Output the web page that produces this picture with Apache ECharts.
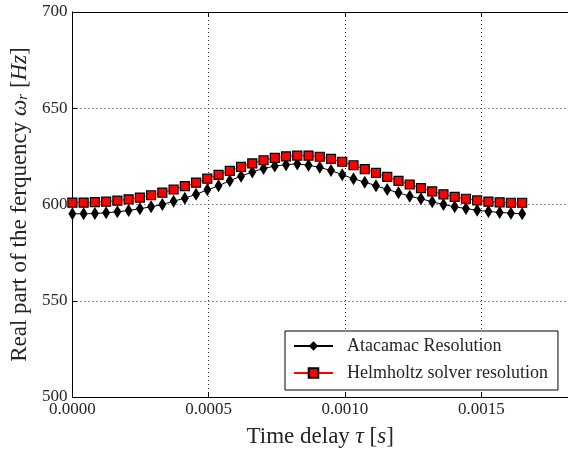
<!DOCTYPE html>
<html>
<head>
<meta charset="utf-8">
<script src="https://cdn.jsdelivr.net/npm/echarts@6/dist/echarts.min.js"></script>
<style>
html, body { margin: 0; padding: 0; background: #fff; }
#chart { width: 568px; height: 454px; }
</style>
</head>
<body>
<div id="chart"></div>
<script>
// Time delay tau [s]
const tau = [
  0, 0.00004125, 0.0000825, 0.00012375, 0.000165, 0.00020625, 0.0002475,
  0.00028875, 0.00033, 0.00037125, 0.0004125, 0.00045375, 0.000495,
  0.00053625, 0.0005775, 0.00061875, 0.00066, 0.00070125, 0.0007425,
  0.00078375, 0.000825, 0.00086625, 0.0009075, 0.00094875, 0.00099,
  0.00103125, 0.0010725, 0.00111375, 0.001155, 0.00119625, 0.0012375,
  0.00127875, 0.00132, 0.00136125, 0.0014025, 0.00144375, 0.001485,
  0.00152625, 0.0015675, 0.00160875, 0.00165
];

// Real part of the frequency [Hz], Atacamac resolution
const atacamac = [
  595.2, 595.2, 595.3, 595.7, 596.2, 596.9, 597.8, 598.8, 600.0, 601.7,
  603.3, 605.3, 607.6, 609.7, 612.4, 614.7, 616.9, 618.7, 620.0, 620.7,
  621.1, 620.4, 619.3, 617.6, 615.5, 613.4, 611.6, 609.8, 607.8, 606.1,
  604.3, 603.0, 601.4, 600.0, 598.8, 597.9, 597.0, 596.4, 595.9, 595.5,
  595.2
];

// Real part of the frequency [Hz], Helmholtz solver
const helmholtz = [
  601.0, 601.0, 601.2, 601.5, 602.0, 602.7, 603.6, 604.8, 606.2, 607.8,
  609.5, 611.4, 613.4, 615.4, 617.5, 619.5, 621.4, 623.0, 624.2, 625.0,
  625.4, 625.4, 624.8, 623.7, 622.2, 620.4, 618.4, 616.4, 614.3, 612.3,
  610.4, 608.5, 606.8, 605.3, 604.0, 603.0, 602.1, 601.5, 601.1, 600.9,
  600.9
];

const seriesNames = ['Atacamac Resolution', 'Helmholtz solver resolution'];

const yTicks = { min: 500, max: 700, step: 50 };
const xTicks = { min: 0, max: 0.0018182, step: 0.0005 };

const serif = '"Liberation Serif", "DejaVu Serif", serif';
const ink = '#262626';
const diamond = 'path://M0,0 L6,10 L0,20 L-6,10 Z';

const chart = echarts.init(document.getElementById('chart'), null, { renderer: 'canvas' });

const gridLine = { show: true, lineStyle: { color: '#333', width: 1, type: [1, 3] } };
const spine = { show: true, onZero: false, lineStyle: { color: '#000', width: 1 } };
const inTick = { show: true, inside: true, length: 5, lineStyle: { color: '#000' } };

chart.setOption({
  animation: false,
  backgroundColor: '#fff',
  grid: { left: 70, top: 12, width: 500, bottom: 57, containLabel: false },
  xAxis: [
    {
      type: 'value', position: 'bottom',
      min: xTicks.min, max: xTicks.max, interval: xTicks.step,
      axisLine: spine,
      axisTick: inTick,
      axisLabel: {
        show: true, showMaxLabel: false, margin: 4,
        fontFamily: serif, fontSize: 17, color: ink,
        formatter: v => v.toFixed(4)
      },
      splitLine: gridLine,
      name: '{n|Time delay }{i|τ}{n| [}{i|s}{n|]}',
      nameLocation: 'middle', nameGap: 28,
      nameTextStyle: {
        rich: {
          n: { fontFamily: serif, fontSize: 23, color: ink },
          i: { fontFamily: serif, fontSize: 23, color: ink, fontStyle: 'italic' }
        }
      }
    },
    {
      type: 'value', position: 'top',
      min: xTicks.min, max: xTicks.max, interval: xTicks.step,
      axisLine: spine,
      axisTick: inTick,
      axisLabel: { show: false },
      splitLine: { show: false }
    }
  ],
  yAxis: [
    {
      type: 'value', position: 'left',
      min: yTicks.min, max: yTicks.max, interval: yTicks.step,
      axisLine: spine,
      axisTick: inTick,
      axisLabel: { show: true, margin: 5, fontFamily: serif, fontSize: 17, color: ink },
      splitLine: gridLine,
      name: '{n|Real part of the ferquency }{i|ω}{s|r}{n| [}{i|Hz}{n|]}',
      nameLocation: 'middle', nameGap: 34, nameRotate: 90,
      nameTextStyle: {
        rich: {
          n: { fontFamily: serif, fontSize: 23, color: ink },
          i: { fontFamily: serif, fontSize: 23, color: ink, fontStyle: 'italic' },
          s: { fontFamily: serif, fontSize: 15, color: ink, fontStyle: 'italic', verticalAlign: 'bottom' }
        }
      }
    }
  ],
  legend: {
    orient: 'vertical',
    left: 285, top: 331,
    backgroundColor: '#fff',
    borderColor: '#000', borderWidth: 1, borderRadius: 0,
    padding: [6, 10, 8, 8],
    itemWidth: 39, itemHeight: 12, itemGap: 9,
    symbolKeepAspect: true,
    textStyle: { fontFamily: serif, fontSize: 18, color: ink, lineHeight: 18, padding: [0, 0, 0, 9] },
    data: seriesNames,
    selectedMode: false,
    z: 10
  },
  series: [
    {
      name: seriesNames[0], type: 'line',
      xAxisIndex: 0, yAxisIndex: 0,
      data: tau.map((t, i) => [t, atacamac[i]]),
      symbol: diamond, symbolSize: [8, 13], symbolKeepAspect: false,
      showSymbol: true, showAllSymbol: true,
      lineStyle: { color: '#000', width: 1 },
      itemStyle: { color: '#000', borderWidth: 0 },
      emphasis: { disabled: true },
      z: 2
    },
    {
      name: seriesNames[1], type: 'line',
      xAxisIndex: 0, yAxisIndex: 0,
      data: tau.map((t, i) => [t, helmholtz[i]]),
      symbol: 'rect', symbolSize: 9,
      showSymbol: true, showAllSymbol: true,
      lineStyle: { color: '#ff0000', width: 1 },
      itemStyle: { color: '#ff0000', borderColor: '#000', borderWidth: 1.2 },
      emphasis: { disabled: true },
      z: 3
    }
  ]
});
</script>
</body>
</html>
